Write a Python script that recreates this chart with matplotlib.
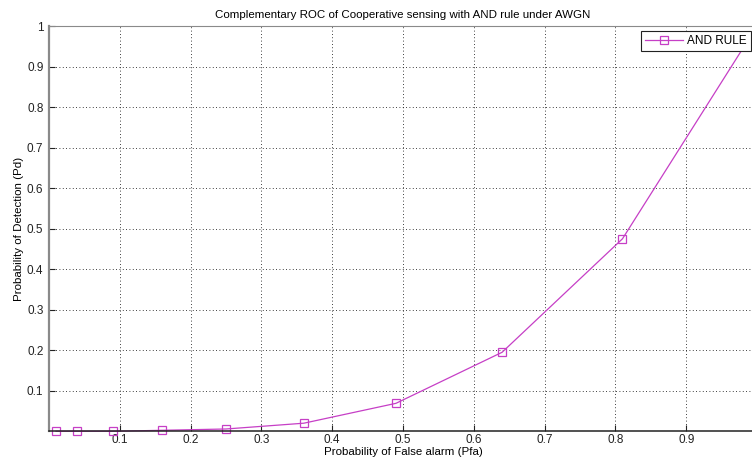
import numpy as np
import matplotlib.pyplot as plt

# Pfa / Pd values
pfa = [0.01, 0.04, 0.09, 0.16, 0.25, 0.36, 0.49, 0.64, 0.81, 1.0]
pd_and = [0.0, 0.0, 0.0, 0.0025, 0.0057, 0.02, 0.069, 0.195, 0.475, 1.0]

xticks = [0.1, 0.2, 0.3, 0.4, 0.5, 0.6, 0.7, 0.8, 0.9]
yticks = [0.1, 0.2, 0.3, 0.4, 0.5, 0.6, 0.7, 0.8, 0.9, 1.0]
ytick_labels = ["0.1", "0.2", "0.3", "0.4", "0.5", "0.6", "0.7", "0.8", "0.9", "1"]

plt.rcParams["font.family"] = ["Liberation Sans", "DejaVu Sans"]
plt.rcParams["font.size"] = 8.25

W, H = 752, 459
fig = plt.figure(figsize=(W / 100, H / 100), dpi=100)
ax = fig.add_axes([49 / W, (H - 431.3) / H, (757 - 49) / W, (431.3 - 26) / H])

# zorder under the spines so the flat part along y=0 is hidden by the axis
ax.plot(pfa, pd_and, color="#c63fc6", lw=0.9, marker="s", markersize=6,
        markerfacecolor="none", markeredgecolor="#c63fc6", markeredgewidth=0.9,
        label="AND RULE", clip_on=False, zorder=2)

ax.set_xlim(0, 1)
ax.set_ylim(0, 1)
ax.set_xticks(xticks)
ax.set_xticklabels([str(t) for t in xticks])
ax.set_yticks(yticks)
ax.set_yticklabels(ytick_labels)

ax.grid(True, color="black", linestyle=(0, (1, 3)), linewidth=0.6)
ax.tick_params(direction="in", length=4, width=0.8, colors="#222222",
               labelsize=8.5)
ax.tick_params(axis="x", pad=2)
ax.tick_params(axis="y", pad=4)

ax.spines["left"].set_color("#8a8a8a")
ax.spines["left"].set_linewidth(1.6)
ax.spines["top"].set_color("#8a8a8a")
ax.spines["top"].set_linewidth(0.8)
ax.spines["bottom"].set_color("#222222")
ax.spines["bottom"].set_linewidth(1.1)
ax.spines["right"].set_visible(False)

ax.set_title("Complementary ROC of Cooperative sensing with AND rule under AWGN",
             fontsize=8.25, pad=6)
ax.set_xlabel("Probability of False alarm (Pfa)", fontsize=8.25, labelpad=1)
ax.set_ylabel("Probability of Detection (Pd)", fontsize=8.25, labelpad=2)

leg = ax.legend(loc="upper right", bbox_to_anchor=(751 / W, 1 - 31 / H),
                bbox_transform=fig.transFigure, fontsize=8.5, handlelength=3.2,
                borderpad=0.35, handletextpad=0.4, borderaxespad=0,
                fancybox=False, framealpha=1)
leg.get_frame().set_edgecolor("#222222")
leg.get_frame().set_linewidth(0.8)

fig.savefig("out.png", dpi=100)
